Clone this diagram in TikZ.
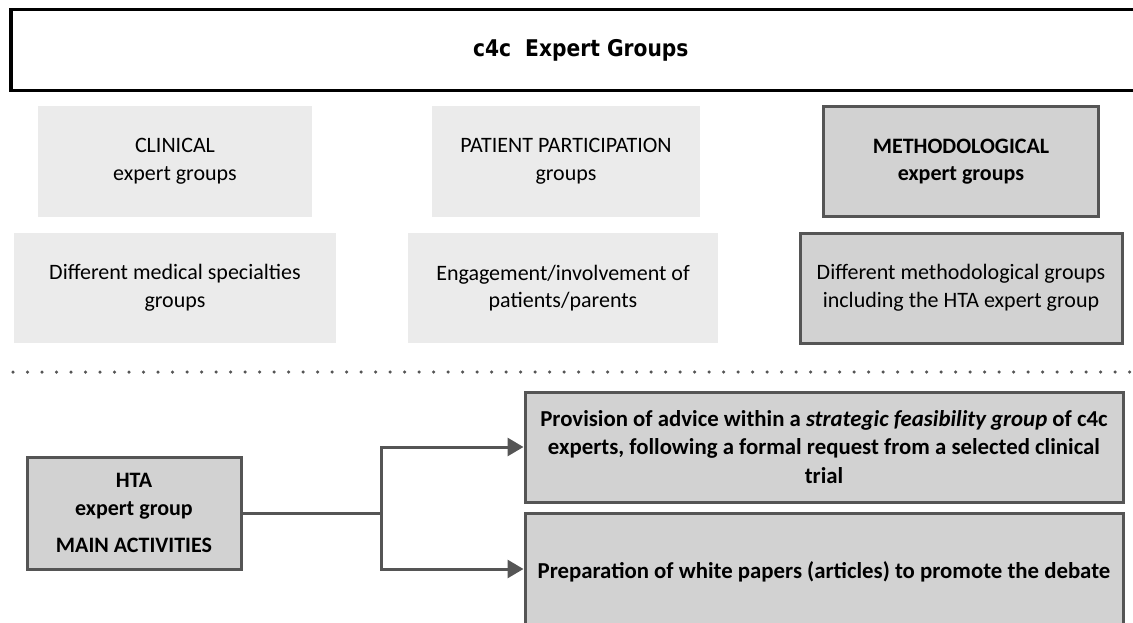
\documentclass[tikz,border=0pt]{standalone}
\usepackage{fontspec}
\setmainfont{Carlito}
\newfontfamily\titlefont[FakeStretch=0.88]{DejaVu Sans}
\usetikzlibrary{positioning, arrows.meta}

\definecolor{lightfill}{HTML}{EBEBEB}
\definecolor{darkfill}{HTML}{D2D2D2}
\definecolor{darkline}{HTML}{555555}

\tikzset{
    lightbox/.style={fill=lightfill, draw=none, align=center, inner sep=0pt},
    darkbox/.style={fill=darkfill, draw=darkline, line width=3pt, align=center, inner sep=0pt},
    activity/.style={darkbox, minimum width=598pt, font=\bfseries\fontsize{22.8}{28.5}\selectfont},
    link/.style={draw=darkline, line width=3pt, -{Triangle[length=16pt, width=18pt]}}
}

\begin{document}
\begin{tikzpicture}[x=1pt, y=-1pt, font=\fontsize{22}{27.5}\selectfont]
        \useasboundingbox (0,0) rectangle (1133,623);

        % title bar
        \node[draw=black, line width=3.5pt, minimum width=1140pt, minimum height=81pt, anchor=north west,
              font=\titlefont\bfseries\fontsize{23}{28}\selectfont] (title) at (9,8) {c4c\ \ Expert Groups};

        % upper row
        \node[lightbox, minimum width=274pt, minimum height=111pt] (clinical) at (175,161.5)
            {CLINICAL\\expert groups};
        \node[lightbox, minimum width=268pt, minimum height=111pt] (patient) at (566,161.5)
            {PATIENT PARTICIPATION\\groups};
        \node[darkbox, minimum width=275pt, minimum height=109pt] (method) at (961,161.5)
            {\textbf{METHODOLOGICAL}\\\textbf{expert groups}};

        % lower row
        \node[lightbox, minimum width=322pt, minimum height=110pt] (clinicaldesc) at (175,288)
            {Different medical specialties\\groups};
        \node[lightbox, minimum width=310pt, minimum height=110pt] (patientdesc) at (563,288)
            {Engagement/involvement of\\patients/parents};
        \node[darkbox, minimum width=322pt, minimum height=110pt] (methoddesc) at (961,288)
            {Different methodological groups\\including the HTA expert group};

        % separator
        \draw[line width=3.5pt, line cap=round, dash pattern=on 0pt off 14.5pt, color=darkline] (13,372) -- (1133,372);

        % activities
        \node[darkbox, minimum width=214pt, minimum height=112pt] (hta) at (134,513)
            {\textbf{HTA}\\\textbf{expert group}\\[10pt]\textbf{MAIN ACTIVITIES}};
        \node[activity, minimum height=110pt] (advice) at (824,447)
            {Provision of advice within a \textit{strategic feasibility group} of c4c\\
             experts, following a formal request from a selected clinical\\
             trial};
        \node[activity, minimum height=118pt] (papers) at (824,572)
            {Preparation of white papers (articles) to promote the debate};

        \coordinate (split) at (381,513);
        \draw[draw=darkline, line width=3pt] (hta.east) -- (split);
        \draw[link] (split) |- (advice.west);
        \draw[link] (split) |- (advice.west |- 0,569);

\end{tikzpicture}
\end{document}
